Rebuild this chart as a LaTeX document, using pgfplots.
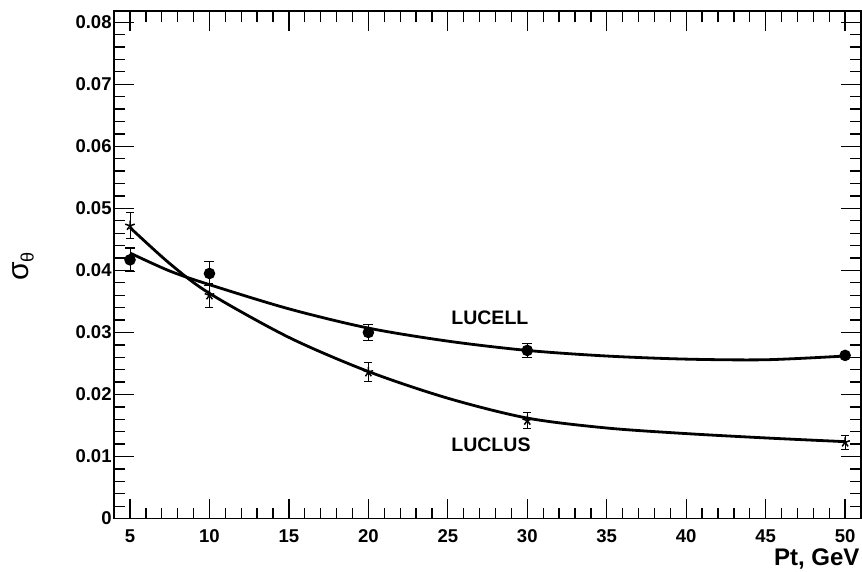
\documentclass[border=0pt]{standalone}
\usepackage{fontspec}
\setmainfont{Liberation Sans}
\usepackage{pgfplots}
\pgfplotsset{compat=1.18}
\begin{document}
\begin{tikzpicture}
\begin{axis}[
  scale only axis,
  width=746pt, height=507pt,
  xmin=4, xmax=51, ymin=0, ymax=0.0818,
  xtick={5,10,...,50},
  ytick={0,0.01,...,0.08},
  yticklabels={0,0.01,0.02,0.03,0.04,0.05,0.06,0.07,0.08},
  minor x tick num=4,
  minor y tick num=4,
  tick align=inside,
  xtick pos=both, ytick pos=both,
  major tick length=20pt, minor tick length=11pt,
  every tick/.style={black, line width=1.3pt},
  axis line style={line width=1.6pt},
  /pgf/number format/assume math mode=true,
  ticklabel style={font=\fontsize{18.5}{21}\selectfont\bfseries},
  xticklabel style={text height=13pt, text depth=0pt, yshift=-7pt},
  yticklabel style={xshift=1pt},
  scaled y ticks=false,
  xlabel={Pt, GeV},
  xlabel style={font=\fontsize{24}{28}\selectfont\bfseries, at={(axis description cs:1,0)}, anchor=north east, yshift=-27pt, xshift=2pt},
  ylabel={σ\raisebox{-0.35ex}{\fontsize{18}{20}\selectfont θ}},
  ylabel style={font=\fontsize{30}{34}\selectfont, at={(axis description cs:-0.122,0.497)}, anchor=center},
  clip=false,
]
% LUCELL fit
\addplot[black, line width=2.8pt, smooth] coordinates {
 (5,0.0428) (7.5,0.0399) (10,0.0377) (15,0.0338) (20,0.0307) (25,0.0286)
 (30,0.0271) (35,0.0262) (40,0.0257) (45,0.0256) (50,0.0262)};
% LUCLUS fit
\addplot[black, line width=2.8pt, smooth] coordinates {
 (5,0.0469) (7.5,0.0411) (10,0.0363) (15,0.0292) (20,0.0237) (25,0.0194)
 (30,0.0162) (35,0.0146) (40,0.0137) (45,0.0130) (50,0.0124)};
% LUCELL points
\addplot[black, only marks, mark=*, mark size=5pt, line width=1.5pt,
  error bars/.cd, y dir=both, y explicit, error mark options={rotate=90, mark size=5pt, line width=1.5pt}]
 coordinates {
 (5,0.0417) +- (0,0.0019)
 (10,0.0395) +- (0,0.0019)
 (20,0.0300) +- (0,0.0013)
 (30,0.0271) +- (0,0.0011)
 (50,0.0263) +- (0,0.0003)};
% LUCLUS points
\addplot[black, only marks, mark=star, mark size=5pt, line width=1.5pt,
  error bars/.cd, y dir=both, y explicit, error bar style={line width=0.8pt}, error mark options={rotate=90, mark size=4pt, line width=0.8pt}]
 coordinates {
 (5,0.0472) +- (0,0.0021)
 (10,0.0360) +- (0,0.0019)
 (20,0.0236) +- (0,0.0015)
 (30,0.0158) +- (0,0.0013)
 (50,0.0123) +- (0,0.0011)};
\node[font=\fontsize{19.5}{22}\selectfont\bfseries, anchor=west] at (axis cs:25.0,0.0323) {LUCELL};
\node[font=\fontsize{19.5}{22}\selectfont\bfseries, anchor=west] at (axis cs:25.0,0.0119) {LUCLUS};
\end{axis}
\pgfresetboundingbox
\path ([shift={(-114pt,-53pt)}]current axis.south west) rectangle ([shift={(1pt,11pt)}]current axis.north east);
\end{tikzpicture}
\end{document}
